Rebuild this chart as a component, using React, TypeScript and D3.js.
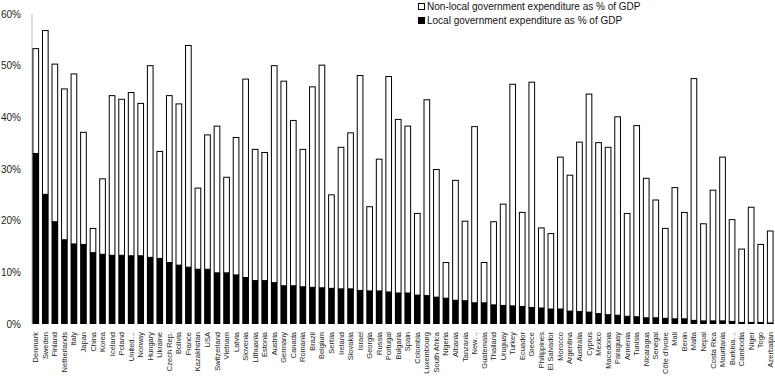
import React from "react";
import * as d3 from "d3";

const countries = ["Denmark","Sweden","Finland","Netherlands","Italy","Japan","China","Korea","Iceland","Poland","United…","Norway","Hungary","Ukraine","Czech Rep.","Bolivia","France","Kazakhstan","USA","Switzerland","Vietnam","Latvia","Slovenia","Lithuania","Estonia","Austria","Germany","Canada","Romania","Brazil","Belgium","Serbia","Ireland","Slovakia","Israel","Georgia","Russia","Portugal","Bulgaria","Spain","Colombia","Luxembourg","South Africa","Nigeria","Albania","Tanzania","New…","Guatemala","Thailand","Uruguay","Turkey","Ecuador","Greece","Philippines","El Salvador","Morocco","Argentina","Australia","Cyprus","Mexico","Macedonia","Paraguay","Armenia","Tunisia","Nicaragua","Senegal","Côte d'Ivoire","Mali","Benin","Malta","Nepal","Costa Rica","Mauritania","Burkina…","Cambodia","Niger","Togo","Azerbaijan"];

// total government expenditure (% of GDP)
const totalExp = [53.3,56.8,50.3,45.5,48.4,37.1,18.5,28.1,44.2,43.5,44.8,42.7,50.0,33.4,44.2,42.6,53.9,26.3,36.6,38.3,28.4,36.1,47.4,33.8,33.2,50.0,47.0,39.4,33.8,45.9,50.1,25.0,34.2,37.0,48.1,22.7,31.9,47.9,39.6,38.3,21.4,43.4,29.9,11.9,27.8,19.9,38.2,11.9,19.8,23.2,46.4,21.6,46.8,18.6,17.5,32.3,28.8,35.2,44.5,35.1,34.2,40.1,21.4,38.4,28.2,24.0,18.5,26.4,21.6,47.5,19.4,25.9,32.3,20.2,14.5,22.6,15.4,18.0];

// local government expenditure (% of GDP)
const localExp = [33.0,25.1,19.8,16.3,15.5,15.4,13.8,13.5,13.3,13.3,13.2,13.2,12.9,12.7,11.9,11.4,11.0,10.6,10.6,9.9,9.9,9.5,9.0,8.4,8.4,8.0,7.4,7.4,7.2,7.1,7.0,6.9,6.8,6.8,6.5,6.4,6.4,6.2,6.0,6.0,5.6,5.5,5.2,5.0,4.6,4.5,4.1,4.1,3.7,3.6,3.5,3.4,3.2,3.1,2.9,2.9,2.5,2.4,2.3,2.0,1.8,1.7,1.5,1.4,1.2,1.2,1.1,1.0,1.0,0.7,0.6,0.6,0.6,0.5,0.3,0.3,0.3,0.2];

const yTicks = [0,10,20,30,40,50,60];
const legendLabels = ["Non-local government expenditure as % of GDP","Local government expenditure as % of GDP"];

const W = 775, H = 376;
const FONT = "Liberation Sans, Arial, sans-serif";

export default function App() {
  const x = d3.scaleBand<string>().domain(countries).range([31, 775]).paddingInner(0.3).paddingOuter(0.15);
  const y = d3.scaleLinear().domain([0, 60]).range([324, 14]);
  const bw = x.bandwidth();
  return (
    <svg width={W} height={H} style={{ position: "absolute", left: 0, top: 0, background: "#fff" }}>
      <line x1={32} x2={32} y1={y(60)} y2={y(0)} stroke="#bbb" strokeWidth={1} />
      {yTicks.map((t) => (
        <text key={t} x={21} y={y(t) + 3.5} textAnchor="end" fontFamily={FONT} fontSize={10} fill="#222">{t + "%"}</text>
      ))}
      {countries.map((c, i) => {
        const x0 = x(c)!;
        return (
          <g key={c}>
            <rect x={x0 + 0.5} y={y(totalExp[i])} width={bw - 1} height={y(localExp[i]) - y(totalExp[i])} fill="#fff" stroke="#000" strokeWidth={1} />
            <rect x={x0} y={y(localExp[i])} width={bw} height={y(0) - y(localExp[i])} fill="#000" />
            <text transform={`translate(${x0 + bw / 2 + 2.5},332) rotate(-90)`} textAnchor="end" fontFamily={FONT} fontSize={7.5} fill="#222">{c}</text>
          </g>
        );
      })}
      <rect x={418.5} y={3.5} width={6} height={6} fill="#fff" stroke="#000" strokeWidth={1} />
      <text x={427} y={10} fontFamily={FONT} fontSize={10} fill="#111">{legendLabels[0]}</text>
      <rect x={418} y={17} width={7} height={7} fill="#000" />
      <text x={427} y={24} fontFamily={FONT} fontSize={10} fill="#111">{legendLabels[1]}</text>
    </svg>
  );
}
